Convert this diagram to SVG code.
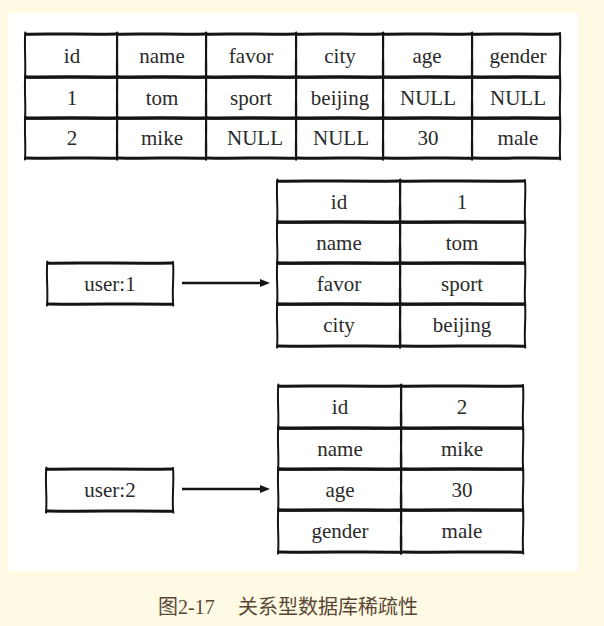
<svg xmlns="http://www.w3.org/2000/svg" width="604" height="626" viewBox="0 0 604 626">
<style>
.h{fill:none;stroke:#141414;stroke-width:3;stroke-linecap:round}
.v{fill:none;stroke:#141414;stroke-width:2;stroke-linecap:round}
.t{font-size:21px;fill:#2a2a2a;text-anchor:middle}
.cap{font-size:20px;fill:#5a4636}
.conn{stroke:#141414;stroke-width:2.5;fill:none}
</style>
<defs>
<path id="cellH" vector-effect="non-scaling-stroke" d="M0.5,0.2 C30,-0.6 70,0.7 99.5,0 M0.5,40 C35,40.7 65,39.4 99.5,40.3"/>
<path id="cellV" vector-effect="non-scaling-stroke" d="M0.3,-1.5 C-0.9,12 1.1,28 0,41.5 M100,-1 C101,14 99,27 100.2,41.5"/>
<marker id="arrow" markerUnits="userSpaceOnUse" markerWidth="10" markerHeight="8" refX="1" refY="4" orient="auto">
<path d="M0,0 L10,4 L0,8 z" fill="#141414"/>
</marker>
</defs>
<rect x="0" y="0" width="604" height="626" fill="#fefae4"/>
<rect x="8" y="13" width="570" height="558" fill="#ffffff"/>

<g font-family="Liberation Serif, Times New Roman, DejaVu Serif, serif">
<g id="relational-table">
<g transform="translate(25,34) scale(0.92,1.075)"><use href="#cellH" class="h"/><use href="#cellV" class="v"/></g>
<g transform="translate(117,34) scale(0.89,1.075)"><use href="#cellH" class="h"/><use href="#cellV" class="v"/></g>
<g transform="translate(206,34) scale(0.90,1.075)"><use href="#cellH" class="h"/><use href="#cellV" class="v"/></g>
<g transform="translate(296,34) scale(0.87,1.075)"><use href="#cellH" class="h"/><use href="#cellV" class="v"/></g>
<g transform="translate(383,34) scale(0.89,1.075)"><use href="#cellH" class="h"/><use href="#cellV" class="v"/></g>
<g transform="translate(472,34) scale(0.88,1.075)"><use href="#cellH" class="h"/><use href="#cellV" class="v"/></g>
<g transform="translate(25,77) scale(0.92,1.025)"><use href="#cellH" class="h"/><use href="#cellV" class="v"/></g>
<g transform="translate(117,77) scale(0.89,1.025)"><use href="#cellH" class="h"/><use href="#cellV" class="v"/></g>
<g transform="translate(206,77) scale(0.90,1.025)"><use href="#cellH" class="h"/><use href="#cellV" class="v"/></g>
<g transform="translate(296,77) scale(0.87,1.025)"><use href="#cellH" class="h"/><use href="#cellV" class="v"/></g>
<g transform="translate(383,77) scale(0.89,1.025)"><use href="#cellH" class="h"/><use href="#cellV" class="v"/></g>
<g transform="translate(472,77) scale(0.88,1.025)"><use href="#cellH" class="h"/><use href="#cellV" class="v"/></g>
<g transform="translate(25,118) scale(0.92,1.0)"><use href="#cellH" class="h"/><use href="#cellV" class="v"/></g>
<g transform="translate(117,118) scale(0.89,1.0)"><use href="#cellH" class="h"/><use href="#cellV" class="v"/></g>
<g transform="translate(206,118) scale(0.90,1.0)"><use href="#cellH" class="h"/><use href="#cellV" class="v"/></g>
<g transform="translate(296,118) scale(0.87,1.0)"><use href="#cellH" class="h"/><use href="#cellV" class="v"/></g>
<g transform="translate(383,118) scale(0.89,1.0)"><use href="#cellH" class="h"/><use href="#cellV" class="v"/></g>
<g transform="translate(472,118) scale(0.88,1.0)"><use href="#cellH" class="h"/><use href="#cellV" class="v"/></g>
<text class="t" x="72" y="62.5">id</text>
<text class="t" x="162" y="62.5">name</text>
<text class="t" x="251" y="62.5">favor</text>
<text class="t" x="340" y="62.5">city</text>
<text class="t" x="427" y="62.5">age</text>
<text class="t" x="518" y="62.5">gender</text>
<text class="t" x="72" y="104.5">1</text>
<text class="t" x="162" y="104.5">tom</text>
<text class="t" x="251" y="104.5">sport</text>
<text class="t" x="340" y="104.5">beijing</text>
<text class="t" x="428" y="104.5">NULL</text>
<text class="t" x="518" y="104.5">NULL</text>
<text class="t" x="72" y="145">2</text>
<text class="t" x="162" y="145">mike</text>
<text class="t" x="255" y="145">NULL</text>
<text class="t" x="341" y="145">NULL</text>
<text class="t" x="428" y="145">30</text>
<text class="t" x="518" y="145">male</text>
</g>

<g id="user1">
<g transform="translate(47,263) scale(1.26,1.025)"><use href="#cellH" class="h"/><use href="#cellV" class="v"/></g>
<text class="t" x="110" y="290.5">user:1</text>
</g>

<g id="hash1">
<g transform="translate(277,181) scale(1.23,1.025)"><use href="#cellH" class="h"/><use href="#cellV" class="v"/></g>
<g transform="translate(400,181) scale(1.25,1.025)"><use href="#cellH" class="h"/><use href="#cellV" class="v"/></g>
<g transform="translate(277,222) scale(1.23,1.025)"><use href="#cellH" class="h"/><use href="#cellV" class="v"/></g>
<g transform="translate(400,222) scale(1.25,1.025)"><use href="#cellH" class="h"/><use href="#cellV" class="v"/></g>
<g transform="translate(277,263) scale(1.23,1.025)"><use href="#cellH" class="h"/><use href="#cellV" class="v"/></g>
<g transform="translate(400,263) scale(1.25,1.025)"><use href="#cellH" class="h"/><use href="#cellV" class="v"/></g>
<g transform="translate(277,304) scale(1.23,1.05)"><use href="#cellH" class="h"/><use href="#cellV" class="v"/></g>
<g transform="translate(400,304) scale(1.25,1.05)"><use href="#cellH" class="h"/><use href="#cellV" class="v"/></g>
<text class="t" x="339" y="208.5">id</text>
<text class="t" x="462" y="208.5">1</text>
<text class="t" x="339" y="249.5">name</text>
<text class="t" x="462" y="249.5">tom</text>
<text class="t" x="339" y="290.5">favor</text>
<text class="t" x="462" y="290.5">sport</text>
<text class="t" x="339" y="332">city</text>
<text class="t" x="462" y="332">beijing</text>
</g>

<g id="user2">
<g transform="translate(46,469) scale(1.27,1.05)"><use href="#cellH" class="h"/><use href="#cellV" class="v"/></g>
<text class="t" x="110" y="497">user:2</text>
</g>

<g id="hash2">
<g transform="translate(278,386) scale(1.23,1.05)"><use href="#cellH" class="h"/><use href="#cellV" class="v"/></g>
<g transform="translate(401,386) scale(1.22,1.05)"><use href="#cellH" class="h"/><use href="#cellV" class="v"/></g>
<g transform="translate(278,428) scale(1.23,1.025)"><use href="#cellH" class="h"/><use href="#cellV" class="v"/></g>
<g transform="translate(401,428) scale(1.22,1.025)"><use href="#cellH" class="h"/><use href="#cellV" class="v"/></g>
<g transform="translate(278,469) scale(1.23,1.025)"><use href="#cellH" class="h"/><use href="#cellV" class="v"/></g>
<g transform="translate(401,469) scale(1.22,1.025)"><use href="#cellH" class="h"/><use href="#cellV" class="v"/></g>
<g transform="translate(278,510) scale(1.23,1.05)"><use href="#cellH" class="h"/><use href="#cellV" class="v"/></g>
<g transform="translate(401,510) scale(1.22,1.05)"><use href="#cellH" class="h"/><use href="#cellV" class="v"/></g>
<text class="t" x="340" y="414">id</text>
<text class="t" x="462" y="414">2</text>
<text class="t" x="340" y="455.5">name</text>
<text class="t" x="462" y="455.5">mike</text>
<text class="t" x="340" y="496.5">age</text>
<text class="t" x="462" y="496.5">30</text>
<text class="t" x="340" y="538">gender</text>
<text class="t" x="462" y="538">male</text>
</g>

<g id="connectors">
<line class="conn" x1="182" y1="283" x2="261" y2="283" marker-end="url(#arrow)"/>
<line class="conn" x1="182" y1="489" x2="261" y2="489" marker-end="url(#arrow)"/>
</g>

<text class="cap" font-family="Liberation Serif, Noto Sans CJK SC, serif" x="158" y="614">图2-17<tspan x="238">关系型数据库稀疏性</tspan></text>
</g>
</svg>
